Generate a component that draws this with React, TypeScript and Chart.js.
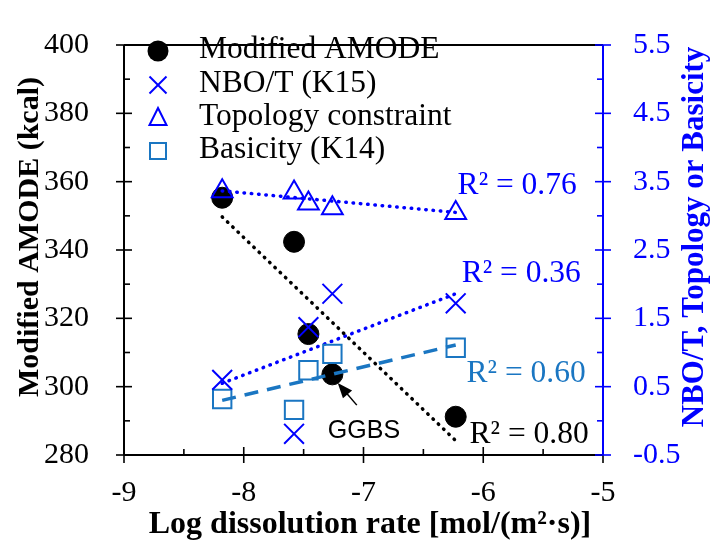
import React, { useEffect, useRef } from 'react';
import { Chart, registerables } from 'chart.js';

Chart.register(...registerables);

// ---- data ----
const xValues = [-8.18, -7.58, -7.46, -7.26, -6.23];
const amodeValues = [355.3, 342.4, 315.4, 303.6, 291.2];
const nboValues = [0.6, -0.19, 1.37, 1.86, 1.72];
const topologyValues = [3.36, 3.34, 3.18, 3.11, 3.04];
const basicityValues = [0.32, 0.16, 0.74, 0.98, 1.07];

const trendX = [-8.18, -6.23];
const amodeTrend = [349.7, 284.2];
const nboTrend = [0.55, 1.86];
const topologyTrend = [3.365, 3.05];
const basicityTrend = [0.3, 1.11];

const xTicks = [-9, -8, -7, -6, -5];
const xMinorTicks = [-8.5, -7.5, -6.5, -5.5];
const leftTicks = [280, 300, 320, 340, 360, 380, 400];
const leftMinorTicks = [290, 310, 330, 350, 370, 390];
const rightTicks = [-0.5, 0.5, 1.5, 2.5, 3.5, 4.5, 5.5];
const rightTickLabels = ['-0.5', '0.5', '1.5', '2.5', '3.5', '4.5', '5.5'];
const rightMinorTicks = [0, 1, 2, 3, 4, 5];

const legendLabels = ['Modified AMODE', 'NBO/T (K15)', 'Topology constraint', 'Basicity (K14)'];
const r2Labels = ['R² = 0.76', 'R² = 0.36', 'R² = 0.60', 'R² = 0.80'];
const pointLabel = 'GGBS';
const xTitle = 'Log dissolution rate [mol/(m²·s)]';
const yTitle = 'Modified AMODE (kcal)';
const y2Title = 'NBO/T, Topology or Basicity';

// ---- styles ----
const BLUE = '#0000ff';
const STEEL = '#1a76c2';
const BLACK = '#000000';
const SERIF = '"Liberation Serif", "Times New Roman", serif';

const pts = (ys: number[]) => xValues.map((x, i) => ({ x, y: ys[i] }));
const trend = (ys: number[]) => trendX.map((x, i) => ({ x, y: ys[i] }));

const decorPlugin = {
  id: 'decor',
  afterDraw(chart: any) {
    const ctx: CanvasRenderingContext2D = chart.ctx;
    const a = chart.chartArea;
    const sx = chart.scales.x;
    const sy = chart.scales.y;
    const sy2 = chart.scales.y2;
    const line = (x1: number, y1: number, x2: number, y2: number) => {
      ctx.beginPath();
      ctx.moveTo(x1, y1);
      ctx.lineTo(x2, y2);
      ctx.stroke();
    };
    ctx.save();
    ctx.lineCap = 'butt';
    // frame
    ctx.lineWidth = 2;
    ctx.strokeStyle = BLACK;
    line(a.left, a.top, a.right, a.top);
    line(a.left, a.top, a.left, a.bottom);
    line(a.left, a.bottom, a.right, a.bottom);
    // ticks left / bottom
    ctx.lineWidth = 1.6;
    leftTicks.forEach((v) => {
      const p = sy.getPixelForValue(v);
      line(a.left - 8, p, a.left + 8, p);
    });
    leftMinorTicks.forEach((v) => {
      const p = sy.getPixelForValue(v);
      line(a.left, p, a.left + 6, p);
    });
    xTicks.forEach((v) => {
      const p = sx.getPixelForValue(v);
      line(p, a.bottom - 8, p, a.bottom + 8);
    });
    xMinorTicks.forEach((v) => {
      const p = sx.getPixelForValue(v);
      line(p, a.bottom, p, a.bottom - 6);
    });
    // right axis
    ctx.strokeStyle = BLUE;
    ctx.lineWidth = 2;
    line(a.right, a.top, a.right, a.bottom);
    ctx.lineWidth = 1.6;
    rightTicks.forEach((v) => {
      const p = sy2.getPixelForValue(v);
      line(a.right - 8, p, a.right + 8, p);
    });
    rightMinorTicks.forEach((v) => {
      const p = sy2.getPixelForValue(v);
      line(a.right, p, a.right - 6, p);
    });

    // axis titles
    ctx.textAlign = 'center';
    ctx.textBaseline = 'alphabetic';
    ctx.fillStyle = BLACK;
    ctx.font = 'bold 32px ' + SERIF;
    ctx.fillText(xTitle, 370, 533);
    ctx.font = 'bold 30px ' + SERIF;
    ctx.save();
    ctx.translate(38, 237);
    ctx.rotate(-Math.PI / 2);
    ctx.fillText(yTitle, 0, 0);
    ctx.restore();
    ctx.save();
    ctx.font = 'bold 31px ' + SERIF;
    ctx.fillStyle = BLUE;
    ctx.translate(703, 237);
    ctx.rotate(-Math.PI / 2);
    ctx.fillText(y2Title, 0, 0);
    ctx.restore();

    // legend
    const lx = 158;
    const rows = [51, 85, 118, 151];
    ctx.fillStyle = BLACK;
    ctx.beginPath();
    ctx.arc(lx, rows[0], 10.5, 0, Math.PI * 2);
    ctx.fill();
    ctx.strokeStyle = BLUE;
    ctx.lineWidth = 2;
    line(lx - 8.5, rows[1] - 8.5, lx + 8.5, rows[1] + 8.5);
    line(lx - 8.5, rows[1] + 8.5, lx + 8.5, rows[1] - 8.5);
    ctx.beginPath();
    ctx.moveTo(lx, rows[2] - 10);
    ctx.lineTo(lx + 8.5, rows[2] + 7);
    ctx.lineTo(lx - 8.5, rows[2] + 7);
    ctx.closePath();
    ctx.stroke();
    ctx.strokeStyle = STEEL;
    ctx.strokeRect(lx - 8, rows[3] - 8, 16, 16);
    ctx.font = '31.5px ' + SERIF;
    ctx.textAlign = 'left';
    ctx.fillStyle = BLACK;
    legendLabels.forEach((t, i) => ctx.fillText(t, 199, rows[i] + 7));

    // R² annotations (anchored in data coordinates)
    ctx.fillStyle = BLUE;
    ctx.fillText(r2Labels[0], sx.getPixelForValue(-6.214), sy2.getPixelForValue(3.322));
    ctx.fillText(r2Labels[1], sx.getPixelForValue(-6.18), sy2.getPixelForValue(2.03));
    ctx.fillStyle = STEEL;
    ctx.fillText(r2Labels[2], sx.getPixelForValue(-6.139), sy2.getPixelForValue(0.568));
    ctx.fillStyle = BLACK;
    ctx.fillText(r2Labels[3], sx.getPixelForValue(-6.114), sy.getPixelForValue(283.4));

    // GGBS label + arrow
    ctx.font = '25px "Liberation Sans", Arial, sans-serif';
    ctx.fillText(pointLabel, sx.getPixelForValue(-7.298), sy.getPixelForValue(285.1));
    const tx = sx.getPixelForValue(-7.056);
    const ty = sy.getPixelForValue(294.6);
    const hx = sx.getPixelForValue(-7.215);
    const hy = sy.getPixelForValue(301.1);
    const ang = Math.atan2(hy - ty, hx - tx);
    ctx.strokeStyle = BLACK;
    ctx.lineWidth = 1.5;
    line(tx, ty, hx - Math.cos(ang) * 10, hy - Math.sin(ang) * 10);
    ctx.beginPath();
    ctx.moveTo(hx, hy);
    ctx.lineTo(hx - Math.cos(ang) * 15 + Math.sin(ang) * 6, hy - Math.sin(ang) * 15 - Math.cos(ang) * 6);
    ctx.lineTo(hx - Math.cos(ang) * 15 - Math.sin(ang) * 6, hy - Math.sin(ang) * 15 + Math.cos(ang) * 6);
    ctx.closePath();
    ctx.fill();
    ctx.restore();
  },
};

export default function App() {
  const ref = useRef<HTMLCanvasElement | null>(null);
  useEffect(() => {
    if (!ref.current) return;
    const dotted = (color: string) => ({
      borderColor: color,
      borderWidth: 3.5,
      borderDash: [0.5, 6.8],
      borderCapStyle: 'round' as const,
    });
    const chart = new Chart(ref.current, {
      type: 'scatter',
      data: {
        datasets: [
          {
            label: legendLabels[0],
            data: pts(amodeValues),
            yAxisID: 'y',
            pointStyle: 'circle',
            pointRadius: 10.5,
            backgroundColor: BLACK,
            borderColor: BLACK,
            borderWidth: 1,
            order: 5,
          },
          {
            label: 'amode trend',
            data: trend(amodeTrend),
            yAxisID: 'y',
            showLine: true,
            pointRadius: 0,
            ...dotted(BLACK),
            order: 3,
          },
          {
            label: 'nbo trend',
            data: trend(nboTrend),
            yAxisID: 'y2',
            showLine: true,
            pointRadius: 0,
            ...dotted(BLUE),
            order: 3,
          },
          {
            label: 'topology trend',
            data: trend(topologyTrend),
            yAxisID: 'y2',
            showLine: true,
            pointRadius: 0,
            ...dotted(BLUE),
            order: 3,
          },
          {
            label: 'basicity trend',
            data: trend(basicityTrend),
            yAxisID: 'y2',
            showLine: true,
            pointRadius: 0,
            borderColor: STEEL,
            borderWidth: 3.5,
            borderDash: [14, 9],
            order: 3,
          },
          {
            label: legendLabels[1],
            data: pts(nboValues),
            yAxisID: 'y2',
            pointStyle: 'crossRot',
            pointRadius: 14,
            borderColor: BLUE,
            backgroundColor: BLUE,
            borderWidth: 2,
            order: 1,
          },
          {
            label: legendLabels[2],
            data: pts(topologyValues),
            yAxisID: 'y2',
            pointStyle: 'triangle',
            pointRadius: 12,
            borderColor: BLUE,
            backgroundColor: 'rgba(0,0,0,0)',
            borderWidth: 2,
            order: 1,
          },
          {
            label: legendLabels[3],
            data: pts(basicityValues),
            yAxisID: 'y2',
            pointStyle: 'rect',
            pointRadius: 13,
            borderColor: STEEL,
            backgroundColor: 'rgba(0,0,0,0)',
            borderWidth: 2,
            order: 1,
          },
        ],
      },
      options: {
        responsive: false,
        animation: false,
        devicePixelRatio: 1,
        layout: { padding: { top: 28, left: 0, right: 0, bottom: 0 } },
        plugins: { legend: { display: false }, tooltip: { enabled: false } },
        scales: {
          x: {
            type: 'linear',
            position: 'bottom',
            min: -9,
            max: -5,
            grid: { display: false },
            border: { display: false },
            afterBuildTicks: (s: any) => {
              s.ticks = xTicks.map((v) => ({ value: v }));
            },
            afterFit: (s: any) => {
              s.height = 89;
            },
            ticks: {
              color: BLACK,
              padding: 12,
              maxRotation: 0,
              font: { family: SERIF, size: 30 },
              callback: (v: any) => String(v),
            },
          },
          y: {
            type: 'linear',
            position: 'left',
            min: 280,
            max: 400,
            grid: { display: false },
            border: { display: false },
            afterBuildTicks: (s: any) => {
              s.ticks = leftTicks.map((v) => ({ value: v }));
            },
            afterFit: (s: any) => {
              s.width = 124;
            },
            ticks: {
              color: BLACK,
              padding: 27,
              font: { family: SERIF, size: 30 },
              callback: (v: any) => String(v),
            },
          },
          y2: {
            type: 'linear',
            position: 'right',
            min: -0.5,
            max: 5.5,
            grid: { display: false },
            border: { display: false },
            afterBuildTicks: (s: any) => {
              s.ticks = rightTicks.map((v) => ({ value: v }));
            },
            afterFit: (s: any) => {
              s.width = 107;
            },
            ticks: {
              color: BLUE,
              padding: 22,
              font: { family: SERIF, size: 30 },
              callback: (v: any, i: number) => rightTickLabels[i],
            },
          },
        },
      } as any,
      plugins: [decorPlugin],
    });
    return () => chart.destroy();
  }, []);
  return (
    <div style={{ position: 'absolute', left: 0, top: 0, width: 710, height: 544, background: '#fff' }}>
      <canvas ref={ref} width={710} height={544} style={{ display: 'block' }} />
    </div>
  );
}
